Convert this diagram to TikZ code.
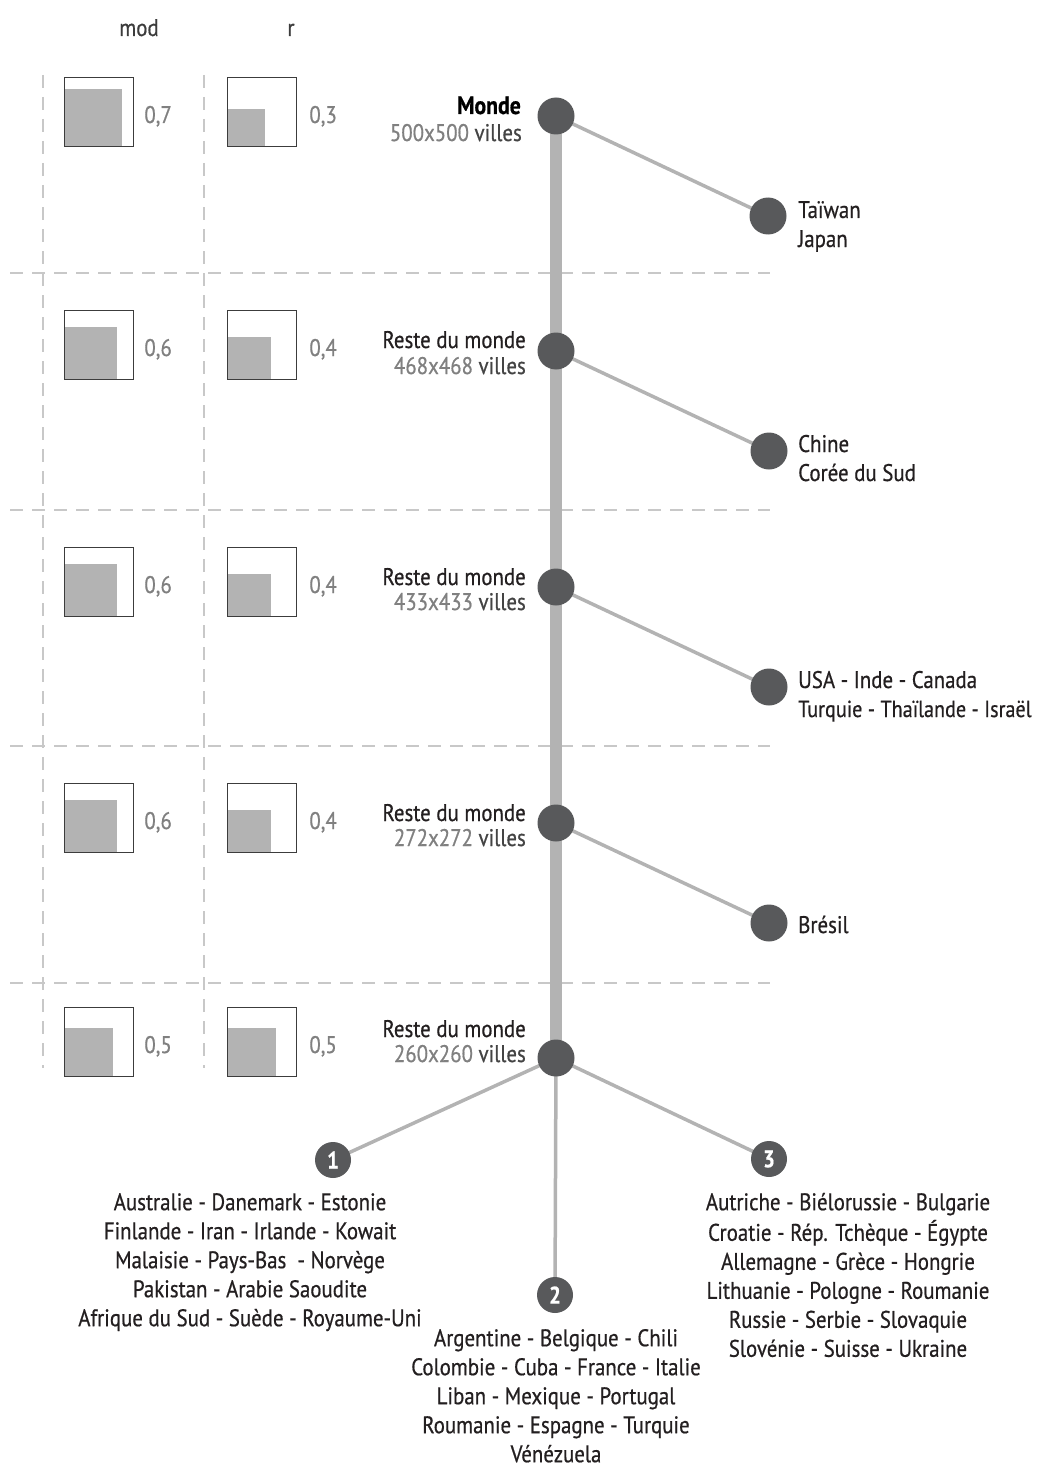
\documentclass[tikz,border=0pt]{standalone}
\usepackage{fontspec}
\setmainfont[FakeStretch=0.87,FakeBold=0.6]{PT Sans}
\definecolor{dk}{HTML}{58595B}
\definecolor{trunkc}{HTML}{B3B3B3}
\definecolor{dashc}{HTML}{C8C8C8}
\definecolor{txt}{HTML}{231F20}
\definecolor{valc}{HTML}{808080}
\definecolor{villc}{HTML}{444444}
\definecolor{hdrc}{HTML}{3C3C3C}
\pgfdeclarelayer{bg}
\pgfsetlayers{bg,main}
\tikzset{
  hub/.style={circle,fill=dk,minimum size=37pt,inner sep=0pt},
  numc/.style={circle,fill=dk,minimum size=36pt,inner sep=0pt,text=white,font=\fontsize{24}{24}\selectfont\bfseries},
  lab/.style={font=\fontsize{24}{29}\selectfont,text=txt,inner sep=0pt},
  hdr/.style={font=\fontsize{24}{29}\selectfont,text=hdrc,inner sep=0pt},
  valtxt/.style={font=\fontsize{24}{29}\selectfont,text=valc,inner sep=0pt},
  gridline/.style={dashc,line width=1.3pt,dash pattern=on 13pt off 9pt},
  trunkline/.style={trunkc,line width=12pt},
  branch/.style={trunkc,line width=3.5pt},
  valbox/.style={draw=hdrc,line width=1.2pt,minimum size=69pt,inner sep=0pt},
  barfill/.style={fill=trunkc}
}
\begin{document}
\begin{tikzpicture}[x=1pt,y=-1pt]
\useasboundingbox (0,0) rectangle (1036,1466);
% grid
\begin{pgfonlayer}{bg}
\foreach \yy in {273,510,746,983} \draw[gridline] (10,\yy) -- (770,\yy);
\foreach \xx in {43,204} \draw[gridline] (\xx,75) -- (\xx,1068);
\end{pgfonlayer}
% headers
\node[hdr,anchor=base] (hmod) at (139,36) {mod};
\node[hdr,anchor=base] (hr) at (291,36) {r};
% value boxes
\foreach \i/\t/\mv/\ms/\rv/\rs in {1/77/0{,}7/57.7/0{,}3/37.8, 2/310/0{,}6/53.4/0{,}4/43.6, 3/547/0{,}6/53.4/0{,}4/43.6, 4/783/0{,}6/53.4/0{,}4/43.6, 5/1007/0{,}5/48.8/0{,}5/48.8}{
  \node[valbox,anchor=north west] (bm\i) at (64,\t) {};
  \node[valbox,anchor=north west] (br\i) at (227,\t) {};
  \begin{pgfonlayer}{bg}
  \fill[barfill] (bm\i.south west) rectangle ++(\ms,-\ms);
  \fill[barfill] (br\i.south west) rectangle ++(\rs,-\rs);
  \end{pgfonlayer}
  \node[valtxt,anchor=base west] (vm\i) at ([xshift=10pt,yshift=-46pt]bm\i.north east) {\mv};
  \node[valtxt,anchor=base west] (vr\i) at ([xshift=12pt,yshift=-46pt]br\i.north east) {\rv};
}
% hubs
\node[hub] (n1) at (556,116) {};
\node[hub] (n2) at (556,351) {};
\node[hub] (n3) at (556,587) {};
\node[hub] (n4) at (556,823) {};
\node[hub] (n5) at (556,1058) {};
% leaves
\node[hub] (l1) at (768,216) {};
\node[hub] (l2) at (769,451) {};
\node[hub] (l3) at (769,687) {};
\node[hub] (l4) at (769,923) {};
% numbered groups
\node[numc] (c1) at (333,1160) {1};
\node[numc] (c2) at (555,1295) {2};
\node[numc] (c3) at (769,1159) {3};
% connectors
\begin{pgfonlayer}{bg}
\draw[trunkline] (n1.center) -- (n5.center);
\draw[branch] (n1.center) -- (l1.center);
\draw[branch] (n2.center) -- (l2.center);
\draw[branch] (n3.center) -- (l3.center);
\draw[branch] (n4.center) -- (l4.center);
\draw[branch] (n5.center) -- (c1.center);
\draw[branch] (n5.center) -- (c2.center);
\draw[branch] (n5.center) -- (c3.center);
\end{pgfonlayer}
% hub labels
\node[lab,font=\fontsize{25}{29}\selectfont\bfseries,text=black,anchor=base east] (t1a) at (521,114) {Monde};
\node[lab,text=villc,anchor=base east] (t1b) at (522,141) {\textcolor{valc}{500x500} villes};
\node[lab,anchor=base east] (t2a) at (526,348) {Reste du monde};
\node[lab,text=villc,anchor=base east] (t2b) at (526,374) {\textcolor{valc}{468x468} villes};
\node[lab,anchor=base east] (t3a) at (526,585) {Reste du monde};
\node[lab,text=villc,anchor=base east] (t3b) at (526,610) {\textcolor{valc}{433x433} villes};
\node[lab,anchor=base east] (t4a) at (526,821) {Reste du monde};
\node[lab,text=villc,anchor=base east] (t4b) at (526,846) {\textcolor{valc}{272x272} villes};
\node[lab,anchor=base east] (t5a) at (526,1037) {Reste du monde};
\node[lab,text=villc,anchor=base east] (t5b) at (526,1062) {\textcolor{valc}{260x260} villes};
% leaf labels
\node[lab,anchor=base west] (s1a) at (798,218) {Taïwan};
\node[lab,anchor=base west] (s1b) at (798,247) {Japan};
\node[lab,anchor=base west] (s2a) at (798,452) {Chine};
\node[lab,anchor=base west] (s2b) at (798,481) {Corée du Sud};
\node[lab,anchor=base west] (s3a) at (798,688) {USA - Inde - Canada};
\node[lab,font=\fontsize{23.2}{29}\selectfont,anchor=base west] (s3b) at (798,717) {Turquie - Thaïlande - Israël};
\node[lab,anchor=base west] (s4a) at (798,933) {Brésil};
% group lists
\node[lab,align=center,anchor=north] (g1) at (250,1189.7) {\strut Australie - Danemark - Estonie\\Finlande - Iran - Irlande - Kowait\\Malaisie - Pays-Bas~ - Norvège\\Pakistan - Arabie Saoudite\\Afrique du Sud - Suède - Royaume-Uni};
\node[lab,align=center,anchor=north] (g2) at (556,1325.7) {\strut Argentine - Belgique - Chili\\Colombie - Cuba - France - Italie\\Liban - Mexique - Portugal\\Roumanie - Espagne - Turquie\\Vénézuela};
\node[lab,align=center,anchor=north] (g3) at (848,1189.7) {\strut Autriche - Biélorussie - Bulgarie\\Croatie - Rép. Tchèque - Égypte\\Allemagne - Grèce - Hongrie\\Lithuanie - Pologne - Roumanie\\Russie - Serbie - Slovaquie\\Slovénie - Suisse - Ukraine};
\end{tikzpicture}
\end{document}
